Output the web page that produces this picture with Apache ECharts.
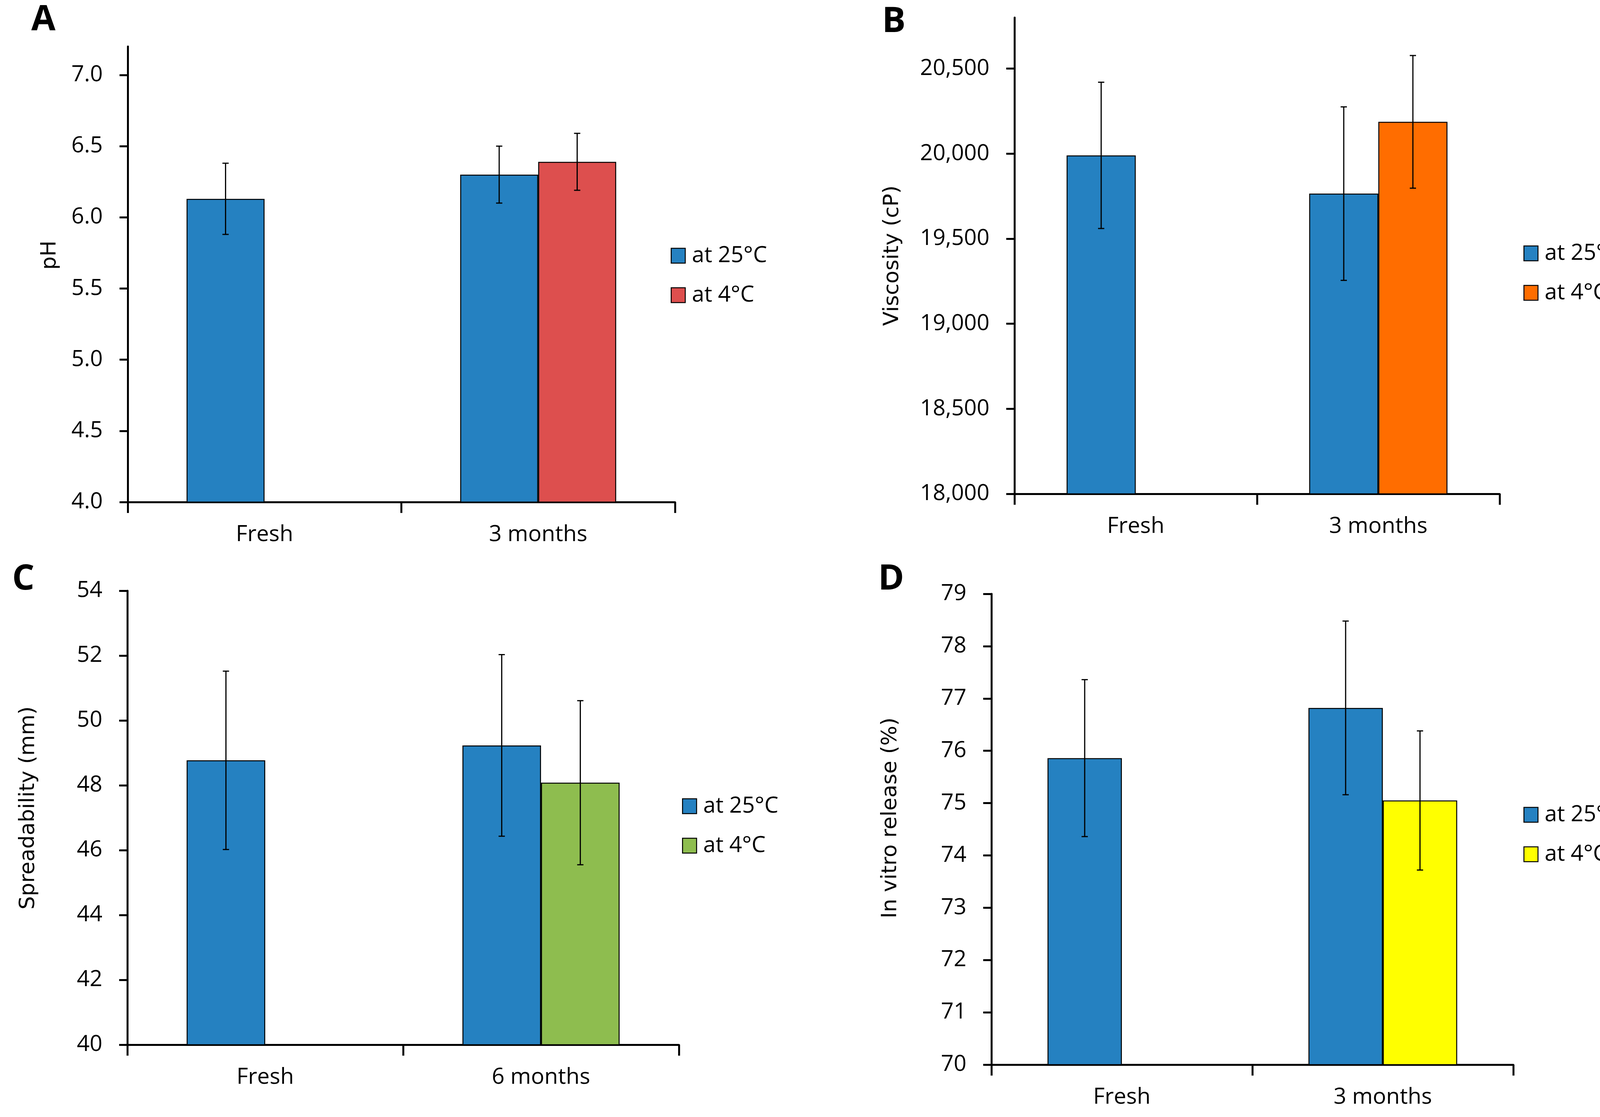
<!DOCTYPE html>
<html><head><meta charset="utf-8">
<script src="https://cdn.jsdelivr.net/npm/echarts@6/dist/echarts.min.js"></script>
<style>html,body{margin:0;padding:0;background:#fff}#c{width:4180px;height:2859px}</style>
</head><body><div id="c"></div>
<script>
// ---------- DATA ----------
const catsA = ['Fresh', '3 months'];
const phAt25 = [6.13, 6.30];
const phAt4 = [null, 6.39];
const phErr25 = [0.25, 0.20];
const phErr4 = [null, 0.20];
const phTicks = [4.0, 4.5, 5.0, 5.5, 6.0, 6.5, 7.0];

const catsB = ['Fresh', '3 months'];
const viscAt25 = [19990, 19765];
const viscAt4 = [null, 20187];
const viscErr25 = [430, 510];
const viscErr4 = [null, 390];
const viscTicks = [18000, 18500, 19000, 19500, 20000, 20500];

const catsC = ['Fresh', '6 months'];
const spreadAt25 = [48.77, 49.23];
const spreadAt4 = [null, 48.08];
const spreadErr25 = [2.75, 2.80];
const spreadErr4 = [null, 2.53];
const spreadTicks = [40, 42, 44, 46, 48, 50, 52, 54];

const catsD = ['Fresh', '3 months'];
const releaseAt25 = [75.86, 76.82];
const releaseAt4 = [null, 75.05];
const releaseErr25 = [1.50, 1.66];
const releaseErr4 = [null, 1.33];
const releaseTicks = [70, 71, 72, 73, 74, 75, 76, 77, 78, 79];

const legendNames = ['at 25°C', 'at 4°C'];

// ---------- PANELS (data refs + layout/style) ----------
const panels = [
  { key: 'A', cats: catsA, v25: phAt25, v4: phAt4, e25: phErr25, e4: phErr4, ticks: phTicks,
    min: 4, max: 7.2, interval: 0.5, fmt: v => v.toFixed(1), yName: 'pH',
    grid: { left: 327, top: 119, width: 1401, height: 1166 }, nameGap: 172, namePadLeft: 98,
    color4: '#DD4F4E', legend: { left: 1717, top: 626 }, letter: { x: 80, y: 54 } },
  { key: 'B', cats: catsB, v25: viscAt25, v4: viscAt4, e25: viscErr25, e4: viscErr4, ticks: viscTicks,
    min: 18000, max: 20800, interval: 500, fmt: v => v.toLocaleString('en-US'), yName: 'Viscosity (cP)',
    grid: { left: 2597, top: 45, width: 1242, height: 1219 }, nameGap: 285, namePadLeft: 0,
    color4: '#FF6D00', legend: { left: 3900, top: 620 }, letter: { x: 2258, y: 59 } },
  { key: 'C', cats: catsC, v25: spreadAt25, v4: spreadAt4, e25: spreadErr25, e4: spreadErr4, ticks: spreadTicks,
    min: 40, max: 54, interval: 2, fmt: v => String(v), yName: 'Spreadability (mm)',
    grid: { left: 326, top: 1512, width: 1412, height: 1162 }, nameGap: 226, namePadLeft: 50,
    color4: '#8EBD4F', legend: { left: 1746, top: 2035 }, letter: { x: 31, y: 1486 } },
  { key: 'D', cats: catsD, v25: releaseAt25, v4: releaseAt4, e25: releaseErr25, e4: releaseErr4, ticks: releaseTicks,
    min: 70, max: 79, interval: 1, fmt: v => String(v), yName: 'In vitro release (%)',
    grid: { left: 2538, top: 1520, width: 1336, height: 1205 }, nameGap: 231, namePadLeft: 58,
    color4: '#FFFF00', legend: { left: 3900, top: 2057 }, letter: { x: 2248, y: 1486 } }
];

const BLUE = '#2581C1';
const GAP = 0.43;
const TXT = "'Open Sans', 'DejaVu Sans', sans-serif";

function errRender(pos) {
  return function (params, api) {
    const v = api.value(1), e = api.value(2);
    if (v == null || isNaN(v)) return;
    const ci = api.value(0);
    const c = api.coord([ci, v]);
    const catW = api.size([1, 0])[0];
    const barW = catW * (1 - GAP) / 2;
    const x = c[0] + (pos === 0 ? -barW / 2 : barW / 2);
    const top = api.coord([ci, v + e])[1];
    const bot = api.coord([ci, v - e])[1];
    const cap = 8;
    const style = { stroke: '#000', lineWidth: 3 };
    return { type: 'group', children: [
      { type: 'line', shape: { x1: x, y1: top, x2: x, y2: bot }, style: style },
      { type: 'line', shape: { x1: x - cap, y1: top, x2: x + cap, y2: top }, style: style },
      { type: 'line', shape: { x1: x - cap, y1: bot, x2: x + cap, y2: bot }, style: style }
    ] };
  };
}

const option = {
  backgroundColor: '#fff',
  animation: false,
  grid: [], xAxis: [], yAxis: [], series: [], legend: [], graphic: []
};

panels.forEach((p, i) => {
  option.grid.push(Object.assign({ containLabel: false }, p.grid));
  option.xAxis.push({
    type: 'category', gridIndex: i, data: p.cats,
    axisLine: { lineStyle: { color: '#000', width: 5 } },
    axisTick: { show: true, length: 28, lineStyle: { color: '#000', width: 5 } },
    axisLabel: { color: '#000', fontFamily: TXT, fontSize: 57, margin: 55 },
    splitLine: { show: false }
  });
  option.yAxis.push({
    type: 'value', gridIndex: i, min: p.min, max: p.max, interval: p.interval,
    name: p.yName, nameLocation: 'middle', nameGap: p.nameGap,
    nameTextStyle: { color: '#000', fontFamily: "'DejaVu Sans', Verdana, sans-serif", fontSize: 54,
      padding: [0, 0, 0, p.namePadLeft] },
    axisLine: { show: true, lineStyle: { color: '#000', width: 5 } },
    axisTick: { show: true, length: 21, customValues: p.ticks, lineStyle: { color: '#000', width: 5 } },
    axisLabel: { color: '#000', fontFamily: TXT, fontSize: 57, margin: 64, customValues: p.ticks,
      formatter: p.fmt },
    splitLine: { show: false }
  });
  const n25 = p.key + '|' + legendNames[0];
  const n4 = p.key + '|' + legendNames[1];
  option.series.push({
    type: 'bar', name: n25, xAxisIndex: i, yAxisIndex: i, data: p.v25,
    barGap: '0%', barCategoryGap: (GAP * 100) + '%',
    itemStyle: { color: BLUE, borderColor: '#000', borderWidth: 2.5 }
  });
  option.series.push({
    type: 'bar', name: n4, xAxisIndex: i, yAxisIndex: i, data: p.v4,
    barGap: '0%', barCategoryGap: (GAP * 100) + '%',
    itemStyle: { color: p.color4, borderColor: '#000', borderWidth: 2.5 }
  });
  option.series.push({
    type: 'custom', name: p.key + '-err25', xAxisIndex: i, yAxisIndex: i, z: 10,
    renderItem: errRender(0), encode: { x: 0, y: 1 },
    data: p.cats.map((c, k) => [k, p.v25[k], p.e25[k]]).filter(d => d[1] != null)
  });
  option.series.push({
    type: 'custom', name: p.key + '-err4', xAxisIndex: i, yAxisIndex: i, z: 10,
    renderItem: errRender(1), encode: { x: 0, y: 1 },
    data: p.cats.map((c, k) => [k, p.v4[k], p.e4[k]]).filter(d => d[1] != null)
  });
  option.legend.push({
    data: [n25, n4], orient: 'vertical', left: p.legend.left, top: p.legend.top,
    padding: 0, itemWidth: 36, itemHeight: 38, itemGap: 44, icon: 'rect',
    itemStyle: { borderColor: '#000', borderWidth: 2.5 },
    formatter: name => name.split('|')[1],
    textStyle: { color: '#000', fontFamily: TXT, fontSize: 57, padding: [0, 0, 0, 12] },
    selectedMode: false
  });
  option.graphic.push({
    type: 'text', left: p.letter.x, top: p.letter.y - 48,
    style: { text: p.key, fill: '#000', font: "bold 90px 'Open Sans', 'DejaVu Sans', sans-serif" }
  });
});

const chart = echarts.init(document.getElementById('c'), null, { renderer: 'canvas' });
chart.setOption(option);
</script>
</body></html>
